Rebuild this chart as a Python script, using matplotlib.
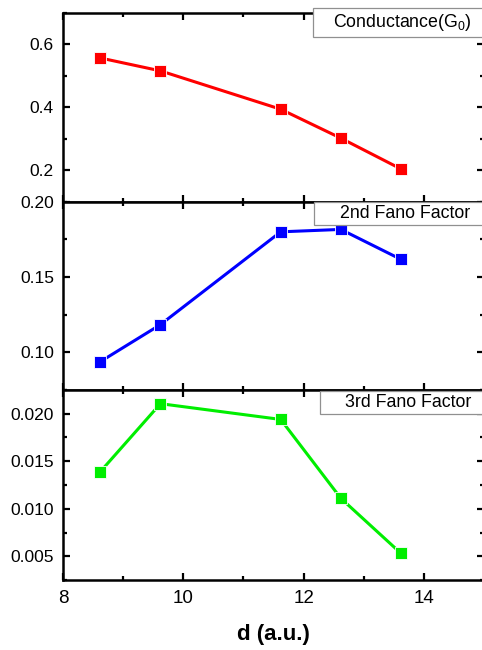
import matplotlib
matplotlib.use("Agg")
import matplotlib.pyplot as plt
from matplotlib.ticker import MultipleLocator, FormatStrFormatter
from matplotlib.patches import Rectangle

plt.rcParams['font.family'] = ['Liberation Sans', 'DejaVu Sans']
plt.rcParams['mathtext.default'] = 'regular'

# data
d = [8.62, 9.62, 11.62, 12.62, 13.62]
conductance = [0.557, 0.516, 0.394, 0.302, 0.204]
fano2 = [0.0938, 0.1184, 0.1800, 0.1816, 0.1617]
fano3 = [0.0139, 0.02106, 0.0194, 0.0111, 0.0053]

labels = ['Conductance(G$_0$)', '2nd Fano Factor', '3rd Fano Factor']
colors = ['#ff0000', '#0000ff', '#00ee00']
series = [conductance, fano2, fano3]
ylims = [(0.1, 0.7), (0.075, 0.2), (0.0025, 0.0225)]
major = [0.2, 0.05, 0.005]
fmts = ['%.1f', '%.2f', '%.3f']

W, H = 482, 650
fig = plt.figure(figsize=(W / 100, H / 100), dpi=100)

# panel extents in pixels (top, bottom)
left, right = 63 / W, 484 / W
panels_px = [(13, 201.7), (201.7, 390), (390, 580)]
# label boxes in pixels: x0, top, bottom, text centre x
boxes_px = [(313, 8, 37, 402), (314, 201.7, 224.7, 405), (320, 391, 414, 408)]

axes = []
for i in range(3):
    top, bot = panels_px[i]
    ax = fig.add_axes([left, 1 - bot / H, right - left, (bot - top) / H])
    ax.plot(d, series[i], '-s', color=colors[i], lw=2.2, ms=8,
            mec='white', mew=0.6, mfc=colors[i], clip_on=False, zorder=3)
    ax.set_xlim(8, 15)
    ax.set_ylim(*ylims[i])
    ax.xaxis.set_major_locator(MultipleLocator(2))
    ax.xaxis.set_minor_locator(MultipleLocator(1))
    ax.yaxis.set_major_locator(MultipleLocator(major[i]))
    ax.yaxis.set_minor_locator(MultipleLocator(major[i] / 2))
    ax.yaxis.set_major_formatter(FormatStrFormatter(fmts[i]))
    ax.tick_params(which='both', direction='in', top=True, right=True, width=1.6)
    ax.tick_params(which='major', length=5)
    ax.tick_params(which='minor', length=3)
    ax.tick_params(axis='y', labelsize=12.5, pad=6.5)
    ax.tick_params(axis='x', labelsize=13.5, pad=7.5)
    for s in ax.spines.values():
        s.set_linewidth(1.8)
    if i < 2:
        ax.tick_params(axis='x', labelbottom=False)
    axes.append(ax)

    x0, bt, bb, tx = boxes_px[i]
    fig.patches.append(Rectangle((x0 / W, 1 - bb / H), (495 - x0) / W, (bb - bt) / H,
                                 transform=fig.transFigure, facecolor='white',
                                 edgecolor='#909090', lw=0.9, zorder=5))
    fig.text(tx / W, 1 - (bt + bb) / 2 / H, labels[i], ha='center', va='center',
             fontsize=12.8, zorder=6)

axes[2].set_xlabel('d (a.u.)', fontsize=16, fontweight='bold', labelpad=12)

fig.savefig('out.png', dpi=100)
